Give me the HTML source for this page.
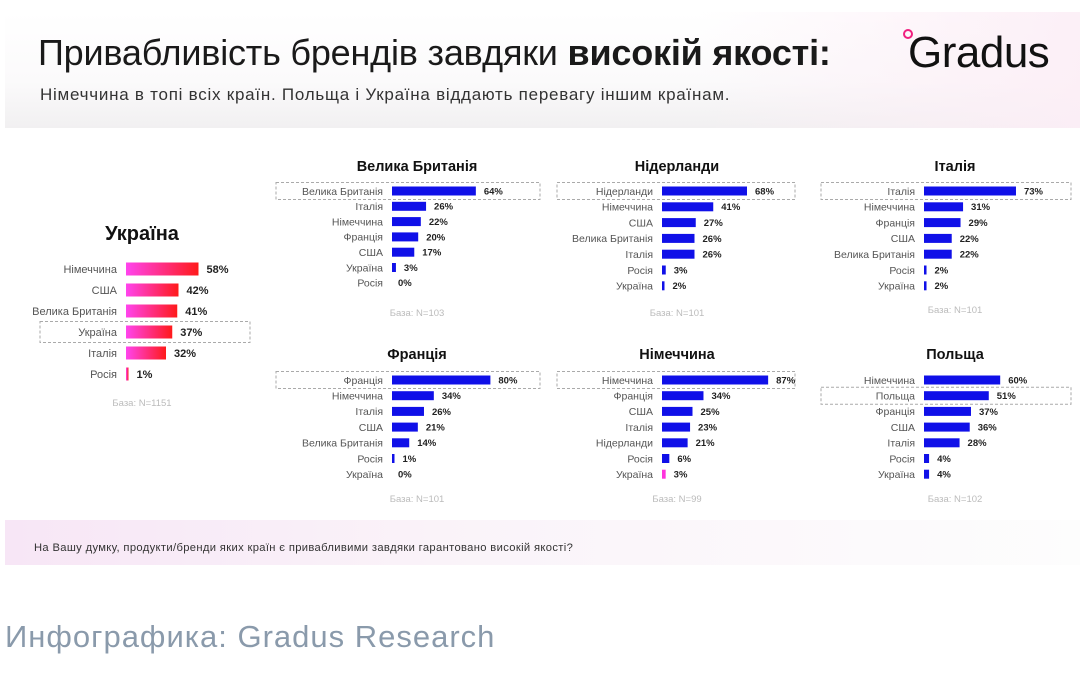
<!DOCTYPE html>
<html><head><meta charset="utf-8">
<style>
html,body{margin:0;padding:0;background:#fff;}
body{width:1085px;height:690px;position:relative;overflow:hidden;font-family:"Liberation Sans","DejaVu Sans",sans-serif;}
#hdr{position:absolute;left:5px;top:12px;width:1075px;height:116px;background:linear-gradient(180deg,#fff 0%,#fbfafb 60%,#f1f0f1 100%);}
#hdr2{position:absolute;left:700px;top:12px;width:380px;height:116px;background:linear-gradient(90deg,rgba(252,240,248,0),rgba(252,238,246,0.9));}
#ftr{position:absolute;left:5px;top:520px;width:1075px;height:45px;background:linear-gradient(90deg,#f7e6f6 0%,#faf3f9 40%,#fdfdfd 100%);}
.t{position:absolute;white-space:nowrap;}
svg{position:absolute;left:0;top:0;}
</style></head><body>
<div id="hdr"></div>
<div id="hdr2"></div>
<div class="t" style="left:38px;top:32px;font-size:36px;color:#1a1a1a;letter-spacing:-0.2px">Привабливість брендів завдяки <b>високій якості:</b></div>
<div class="t" style="left:40px;top:85px;font-size:17px;color:#333;letter-spacing:0.75px">Німеччина в топі всіх країн. Польща і Україна віддають перевагу іншим країнам.</div>
<div class="t" style="left:908px;top:28px;font-size:44px;color:#111;letter-spacing:-0.5px">Gradus</div>
<div style="position:absolute;left:903px;top:29px;width:6px;height:6px;border:2px solid #f0207f;border-radius:50%"></div>
<div id="ftr"></div>
<div class="t" style="left:34px;top:542px;font-size:11.2px;color:#333;letter-spacing:0.35px">На Вашу думку, продукти/бренди яких країн є привабливими завдяки гарантовано високій якості?</div>
<div class="t" style="left:5px;top:619px;font-size:31px;color:#8a9aab;letter-spacing:1px">Инфографика: Gradus Research</div>
<svg id="chart" width="1085" height="690"></svg>
<script>
const ukrCats=["Німеччина","США","Велика Британія","Україна","Італія","Росія"];
const ukrVals=[58,42,41,37,32,1];
const gbCats=["Велика Британія","Італія","Німеччина","Франція","США","Україна","Росія"];
const gbVals=[64,26,22,20,17,3,0];
const nlCats=["Нідерланди","Німеччина","США","Велика Британія","Італія","Росія","Україна"];
const nlVals=[68,41,27,26,26,3,2];
const itCats=["Італія","Німеччина","Франція","США","Велика Британія","Росія","Україна"];
const itVals=[73,31,29,22,22,2,2];
const frCats=["Франція","Німеччина","Італія","США","Велика Британія","Росія","Україна"];
const frVals=[80,34,26,21,14,1,0];
const deCats=["Німеччина","Франція","США","Італія","Нідерланди","Росія","Україна"];
const deVals=[87,34,25,23,21,6,3];
const plCats=["Німеччина","Польща","Франція","США","Італія","Росія","Україна"];
const plVals=[60,51,37,36,28,4,4];
const bases=["База: N=1151","База: N=103","База: N=101","База: N=101","База: N=101","База: N=99","База: N=102"];

const NS="http://www.w3.org/2000/svg";
const svg=document.getElementById('chart');
const defs=document.createElementNS(NS,'defs');
defs.innerHTML='<linearGradient id="pg" x1="0" x2="1"><stop offset="0" stop-color="#ff44ee"/><stop offset="1" stop-color="#ff1a1a"/></linearGradient>';
svg.appendChild(defs);
function mk(tag,attrs,name){const e=document.createElementNS(NS,tag);for(const k in attrs)e.setAttribute(k,attrs[k]);


svg.appendChild(e);return e;}
function panel(key,title,cats,vals,base,o){
  const x=v=>o.bx+v*o.sc;
  mk('text',{x:o.tx,y:o.ty,'text-anchor':'middle','font-size':o.tf,'font-weight':'bold',fill:'#111'},key+'-title').textContent=title;
  if(o.hi!=null){const y=o.y0+o.hi*o.dy;
    mk('rect',{x:o.boxL,y:y-o.bh/2-4,width:o.boxR-o.boxL,height:o.bh+8,fill:'none',stroke:'#aaa','stroke-dasharray':'3,2','stroke-width':1},key+'-highlight-box');}
  cats.forEach((c,i)=>{const y=o.y0+i*o.dy;
    mk('text',{x:o.bx-9,y:y+o.lf*0.36,'text-anchor':'end','font-size':o.lf,fill:'#555'},key+'-label-'+i).textContent=c;
    const w=vals[i]>0?Math.max(x(vals[i])-o.bx,2.5):0;
    let fill=o.pink?'url(#pg)':'#1010e8';
    if(o.pinkIdx===i)fill='#ff33dd';
    if(w>0)mk('rect',{x:o.bx,y:y-o.bh/2,width:w,height:o.bh,fill:fill},key+'-bar-'+i);
    mk('text',{x:o.bx+w+(w>0?8:6),y:y+o.vf*0.36,'font-size':o.vf,'font-weight':'bold',fill:'#222'},key+'-value-'+i).textContent=vals[i]+'%';
  });
  mk('text',{x:o.tx,y:o.baseY,'text-anchor':'middle','font-size':9.5,fill:'#bbb'},key+'-base').textContent=base;
}
panel('ukraine','Україна',ukrCats,ukrVals,bases[0],{tx:142,ty:240,tf:20,bx:126,sc:1.25,y0:269,dy:21,bh:13,lf:11,vf:11,pink:true,hi:3,boxL:40,boxR:250,baseY:406});
panel('gb','Велика Британія',gbCats,gbVals,bases[1],{tx:417,ty:171,tf:14.5,bx:392,sc:1.31,y0:191,dy:15.3,bh:9,lf:10.5,vf:9.5,hi:0,boxL:276,boxR:540,baseY:316});
panel('nl','Нідерланди',nlCats,nlVals,bases[2],{tx:677,ty:171,tf:14.5,bx:662,sc:1.25,y0:191,dy:15.8,bh:9,lf:10.5,vf:9.5,hi:0,boxL:557,boxR:795,baseY:316});
panel('it','Італія',itCats,itVals,bases[3],{tx:955,ty:171,tf:14.5,bx:924,sc:1.26,y0:191,dy:15.8,bh:9,lf:10.5,vf:9.5,hi:0,boxL:821,boxR:1071,baseY:313});
panel('fr','Франція',frCats,frVals,bases[4],{tx:417,ty:359,tf:14.5,bx:392,sc:1.23,y0:380,dy:15.7,bh:9,lf:10.5,vf:9.5,hi:0,boxL:276,boxR:540,baseY:502});
panel('de','Німеччина',deCats,deVals,bases[5],{tx:677,ty:359,tf:14.5,bx:662,sc:1.22,y0:380,dy:15.7,bh:9,lf:10.5,vf:9.5,hi:0,boxL:557,boxR:795,baseY:502,pinkIdx:6});
panel('pl','Польща',plCats,plVals,bases[6],{tx:955,ty:359,tf:14.5,bx:924,sc:1.27,y0:380,dy:15.7,bh:9,lf:10.5,vf:9.5,hi:1,boxL:821,boxR:1071,baseY:502});
</script>
</body></html>
